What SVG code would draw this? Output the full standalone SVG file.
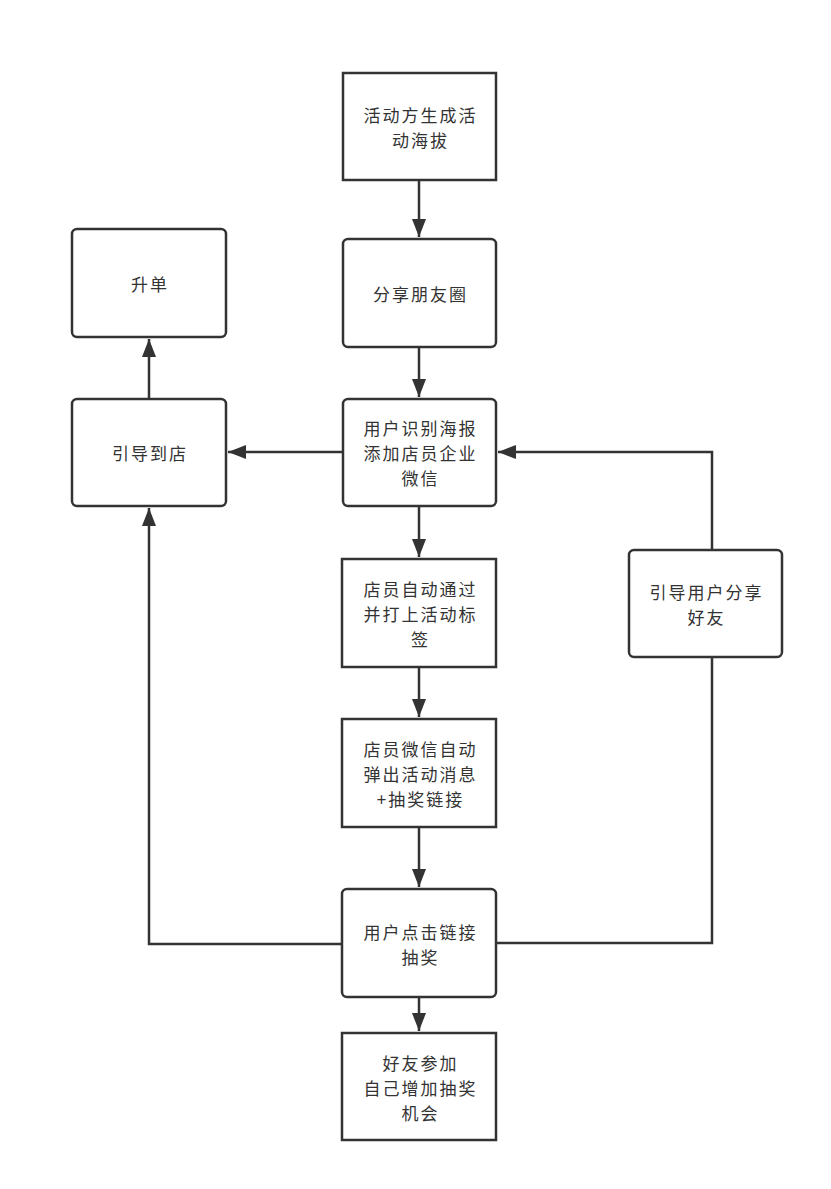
<svg xmlns="http://www.w3.org/2000/svg" width="831" height="1189" viewBox="0 0 831 1189">
<defs>
<style>
.box{fill:#fff;stroke:#333;stroke-width:2.5}
.t{font-family:"Noto Sans CJK SC","Liberation Sans",sans-serif;font-size:17px;letter-spacing:2px;fill:#333;text-anchor:middle;dominant-baseline:central}
.c{fill:none;stroke:#333;stroke-width:2.5}
</style>
<marker id="ah" markerUnits="userSpaceOnUse" markerWidth="20" markerHeight="16" viewBox="0 0 20 16" refX="18" refY="8" orient="auto">
<path d="M0,1 L18,8 L0,15 Z" fill="#333"/>
</marker>
</defs>
<rect width="831" height="1189" fill="#fff"/>
<g id="connectors">
<line class="c" x1="419" y1="180" x2="419" y2="237" marker-end="url(#ah)"/>
<line class="c" x1="419" y1="347" x2="419" y2="397" marker-end="url(#ah)"/>
<line class="c" x1="419" y1="506" x2="419" y2="557" marker-end="url(#ah)"/>
<line class="c" x1="419" y1="667" x2="419" y2="717" marker-end="url(#ah)"/>
<line class="c" x1="419" y1="827" x2="419" y2="887" marker-end="url(#ah)"/>
<line class="c" x1="419" y1="997" x2="419" y2="1031" marker-end="url(#ah)"/>
<line class="c" x1="343" y1="452" x2="228" y2="452" marker-end="url(#ah)"/>
<line class="c" x1="149" y1="399" x2="149" y2="339" marker-end="url(#ah)"/>
<polyline class="c" points="342,944 149,944 149,508" marker-end="url(#ah)"/>
<polyline class="c" points="496,943 712,943 712,657"/>
<polyline class="c" points="712,550 712,452 498,452" marker-end="url(#ah)"/>
</g>
<g id="n1"><rect class="box" x="343" y="73" width="153" height="107"/>
<text class="t" x="420.5" y="114">活动方生成活<tspan x="420.5" dy="25">动海拔</tspan></text></g>
<g id="n2"><rect class="box" x="343" y="239" width="153" height="108" rx="5"/>
<text class="t" x="420.5" y="293">分享朋友圈</text></g>
<g id="n3"><rect class="box" x="343" y="399" width="153" height="107" rx="5"/>
<text class="t" x="420.5" y="427">用户识别海报<tspan x="420.5" dy="25">添加店员企业</tspan><tspan x="420.5" dy="25">微信</tspan></text></g>
<g id="n4"><rect class="box" x="342" y="559" width="154" height="108"/>
<text class="t" x="420.5" y="588">店员自动通过<tspan x="420.5" dy="25">并打上活动标</tspan><tspan x="420.5" dy="25">签</tspan></text></g>
<g id="n5"><rect class="box" x="342" y="719" width="154" height="108"/>
<text class="t" x="420.5" y="748">店员微信自动<tspan x="420.5" dy="25">弹出活动消息</tspan><tspan x="420.5" dy="25">+抽奖链接</tspan></text></g>
<g id="n6"><rect class="box" x="342" y="889" width="154" height="108" rx="5"/>
<text class="t" x="420.5" y="931">用户点击链接<tspan x="420.5" dy="25">抽奖</tspan></text></g>
<g id="n7"><rect class="box" x="342" y="1033" width="154" height="107"/>
<text class="t" x="420.5" y="1062">好友参加<tspan x="420.5" dy="25">自己增加抽奖</tspan><tspan x="420.5" dy="25">机会</tspan></text></g>
<g id="n8"><rect class="box" x="72" y="229" width="154" height="108" rx="5"/>
<text class="t" x="150" y="283">升单</text></g>
<g id="n9"><rect class="box" x="72" y="399" width="154" height="107" rx="5"/>
<text class="t" x="150" y="452">引导到店</text></g>
<g id="n10"><rect class="box" x="629" y="550" width="153" height="107" rx="5"/>
<text class="t" x="706.5" y="591">引导用户分享<tspan x="706.5" dy="25">好友</tspan></text></g>
</svg>
